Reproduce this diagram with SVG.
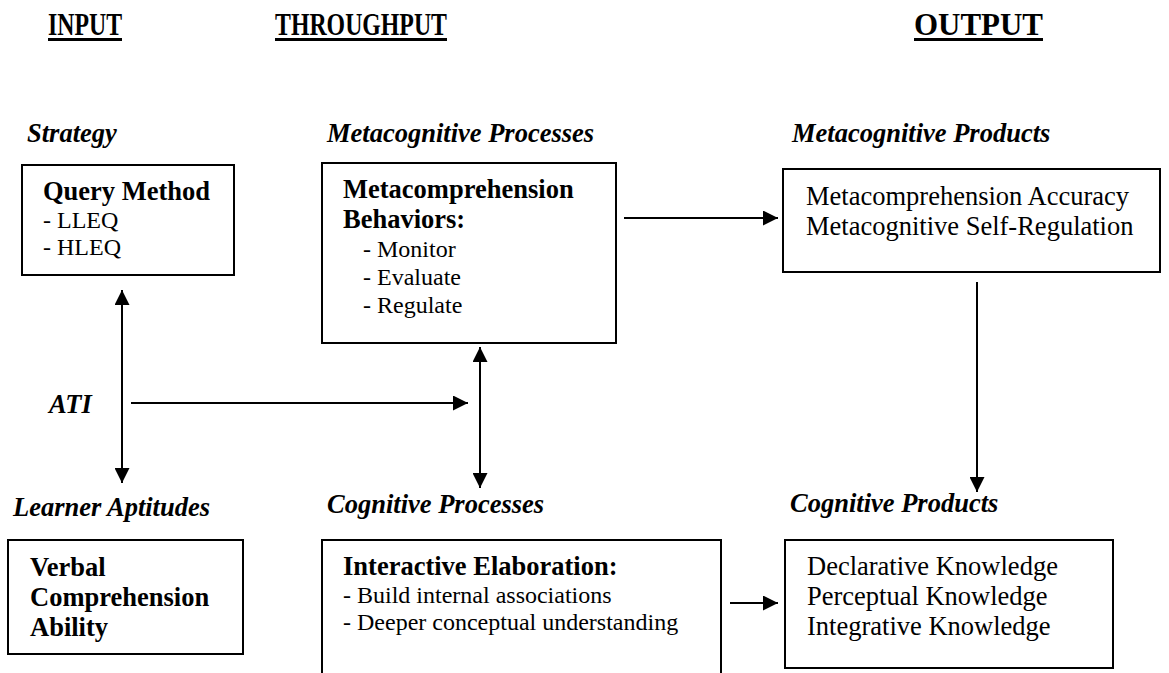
<svg xmlns="http://www.w3.org/2000/svg" width="1169" height="673" viewBox="0 0 1169 673">
<style>
text{font-family:"Liberation Serif","Times New Roman",serif;fill:#000}
.h{font-size:32px;font-weight:bold}
.lbl{font-size:26.5px;font-weight:bold;font-style:italic}
.b{font-size:26.5px;font-weight:bold}
.r{font-size:26.5px}
.s{font-size:24px}
.box{fill:#fff;stroke:#000;stroke-width:2}
.ln{stroke:#000;stroke-width:2;fill:none}
</style>
<defs>
<marker id="ah" viewBox="0 0 10 10" refX="10" refY="5" markerWidth="15" markerHeight="15" markerUnits="userSpaceOnUse" orient="auto-start-reverse">
<path d="M0,0 L10,5 L0,10 Z" fill="#000"/>
</marker>
</defs>
<g id="headings">
<text class="h" x="48" y="35" textLength="74" lengthAdjust="spacingAndGlyphs">INPUT</text><rect x="48" y="38" width="74" height="3"/>
<text class="h" x="275" y="35" textLength="172" lengthAdjust="spacingAndGlyphs">THROUGHPUT</text><rect x="275" y="38" width="172" height="3"/>
<text class="h" x="914" y="35" textLength="129" lengthAdjust="spacingAndGlyphs">OUTPUT</text><rect x="914" y="38" width="129" height="3"/>
</g>
<g id="strategy">
<text class="lbl" x="27" y="142">Strategy</text>
<rect class="box" x="22" y="165" width="212" height="110"/>
<text class="b" x="43" y="200">Query Method</text>
<text class="s" x="43" y="228">- LLEQ</text>
<text class="s" x="43" y="255">- HLEQ</text>
</g>
<g id="metaproc">
<text class="lbl" x="327" y="142">Metacognitive Processes</text>
<rect class="box" x="322" y="163" width="294" height="180"/>
<text class="b" x="343" y="198">Metacomprehension</text>
<text class="b" x="343" y="228">Behaviors:</text>
<text class="s" x="363" y="257">- Monitor</text>
<text class="s" x="363" y="285">- Evaluate</text>
<text class="s" x="363" y="313">- Regulate</text>
</g>
<g id="metaprod">
<text class="lbl" x="792" y="142">Metacognitive Products</text>
<rect class="box" x="783" y="169" width="377" height="103"/>
<text class="r" x="806" y="205">Metacomprehension Accuracy</text>
<text class="r" x="806" y="235">Metacognitive Self-Regulation</text>
</g>
<g id="ati">
<text class="lbl" x="49" y="413">ATI</text>
</g>
<g id="aptitudes">
<text class="lbl" x="13" y="516">Learner Aptitudes</text>
<rect class="box" x="8" y="540" width="235" height="114"/>
<text class="b" x="30" y="576">Verbal</text>
<text class="b" x="30" y="606">Comprehension</text>
<text class="b" x="30" y="636">Ability</text>
</g>
<g id="cogproc">
<text class="lbl" x="327" y="513">Cognitive Processes</text>
<path class="ln" d="M322,675 V540 H721 V675"/>
<text class="b" x="343" y="575">Interactive Elaboration:</text>
<text class="s" x="343" y="603">- Build internal associations</text>
<text class="s" x="343" y="630">- Deeper conceptual understanding</text>
</g>
<g id="cogprod">
<text class="lbl" x="790" y="512">Cognitive Products</text>
<rect class="box" x="785" y="540" width="328" height="128"/>
<text class="r" x="807" y="575">Declarative Knowledge</text>
<text class="r" x="807" y="605">Perceptual Knowledge</text>
<text class="r" x="807" y="635">Integrative Knowledge</text>
</g>
<g id="connectors">
<line class="ln" x1="122" y1="290" x2="122" y2="483" marker-start="url(#ah)" marker-end="url(#ah)"/>
<line class="ln" x1="131" y1="403" x2="468" y2="403" marker-end="url(#ah)"/>
<line class="ln" x1="480" y1="347" x2="480" y2="488" marker-start="url(#ah)" marker-end="url(#ah)"/>
<line class="ln" x1="624" y1="218" x2="778" y2="218" marker-end="url(#ah)"/>
<line class="ln" x1="977" y1="282" x2="977" y2="492" marker-end="url(#ah)"/>
<line class="ln" x1="730" y1="603" x2="778" y2="603" marker-end="url(#ah)"/>
</g>
</svg>
